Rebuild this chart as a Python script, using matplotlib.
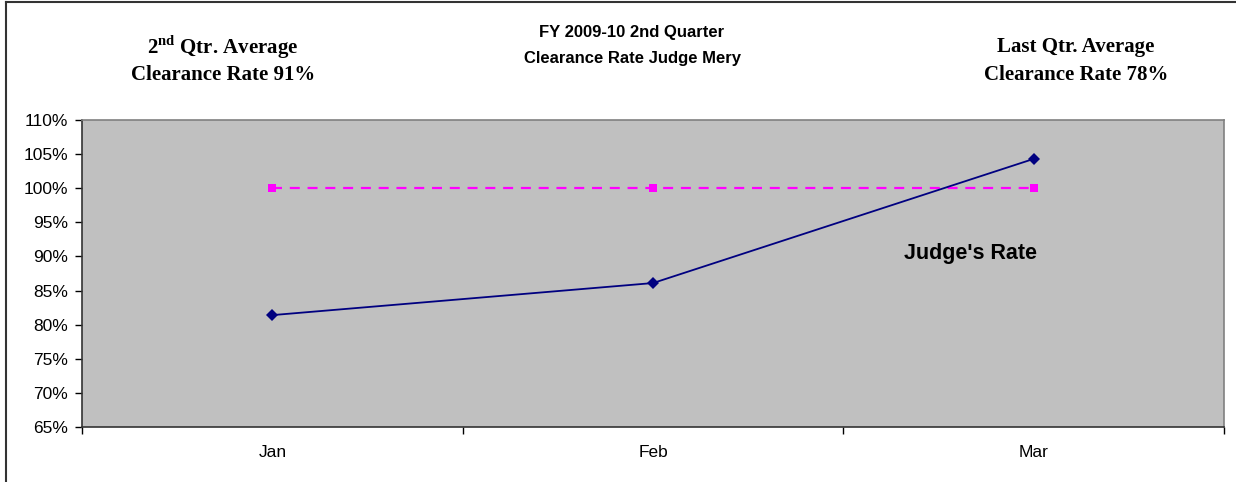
import matplotlib
matplotlib.use("Agg")
from matplotlib import pyplot as plt
from matplotlib.lines import Line2D
from matplotlib.ticker import FixedLocator, NullFormatter

# data
months = ["Jan", "Feb", "Mar"]
judge_rate = [81.4, 86.1, 104.3]
target_rate = [100, 100, 100]
yticks = [65, 70, 75, 80, 85, 90, 95, 100, 105, 110]

plt.rcParams["mathtext.fontset"] = "custom"
plt.rcParams["mathtext.bf"] = "Liberation Serif:bold"
plt.rcParams["mathtext.rm"] = "Liberation Serif"

W, H = 1236, 482
fig = plt.figure(figsize=(W / 100, H / 100), dpi=100)
fig.patch.set_facecolor("white")

ax = fig.add_axes([82 / W, 1 - 427 / H, (1224 - 82) / W, (427 - 120) / H])
ax.set_facecolor("#c0c0c0")

x = list(range(len(months)))
ax.plot(x, target_rate, color="#ff00ff", linestyle=(0, (4.5, 3.5)), linewidth=1.6,
        marker="s", markersize=6, markeredgewidth=0)
ax.plot(x, judge_rate, color="#000080", linewidth=1.3,
        marker="D", markersize=6, markeredgewidth=0)

ax.set_xlim(-0.5, len(months) - 0.5)
ax.set_ylim(65, 110)

# y ticks
ax.set_yticks(yticks)
ax.set_yticklabels(["%d%%" % v for v in yticks], fontname="Liberation Sans", fontsize=12.5)
ax.tick_params(axis="y", direction="out", length=5, width=1, pad=5, color="black")

# x: tick marks at category boundaries, labels at centers
ax.xaxis.set_major_locator(FixedLocator([i - 0.5 for i in range(len(months) + 1)]))
ax.xaxis.set_major_formatter(NullFormatter())
ax.xaxis.set_minor_locator(FixedLocator(x))
ax.set_xticklabels(months, minor=True, fontname="Liberation Sans", fontsize=12.5)
ax.tick_params(axis="x", which="major", direction="out", length=5, width=1, color="black")
ax.tick_params(axis="x", which="minor", length=0, pad=13)

for s in ["left", "bottom"]:
    ax.spines[s].set_color("#333333")
    ax.spines[s].set_linewidth(1.2)
for s in ["top", "right"]:
    ax.spines[s].set_color("#808080")
    ax.spines[s].set_linewidth(1.2)

ax.text(1.835, 90.4, "Judge's Rate", ha="center", va="center",
        fontname="Liberation Sans", fontweight="bold", fontsize=15.5)

# header texts
fig.text(632 / W, 1 - 32 / H, "FY 2009-10 2nd Quarter", ha="center", va="center",
         fontname="Liberation Sans", fontweight="bold", fontsize=12)
fig.text(632 / W, 1 - 59 / H, "Clearance Rate Judge Mery", ha="center", va="center",
         fontname="Liberation Sans", fontweight="bold", fontsize=12)

serif = dict(ha="center", va="center", fontname="Liberation Serif", fontweight="bold", fontsize=15)
fig.text(223 / W, 1 - 47 / H, r"2$^{\mathbf{nd}}$ Qtr. Average", **serif)
fig.text(223 / W, 1 - 75 / H, "Clearance Rate 91%", **serif)
fig.text(1076 / W, 1 - 47 / H, "Last Qtr. Average", **serif)
fig.text(1076 / W, 1 - 75 / H, "Clearance Rate 78%", **serif)

# outer chart border (left and top visible)
fig.add_artist(Line2D([6 / W, 6 / W], [0, 1 - 2 / H], color="#333333", linewidth=1.5))
fig.add_artist(Line2D([6 / W, 1], [1 - 2 / H, 1 - 2 / H], color="#333333", linewidth=1.5))

fig.savefig("out.png", dpi=100)
